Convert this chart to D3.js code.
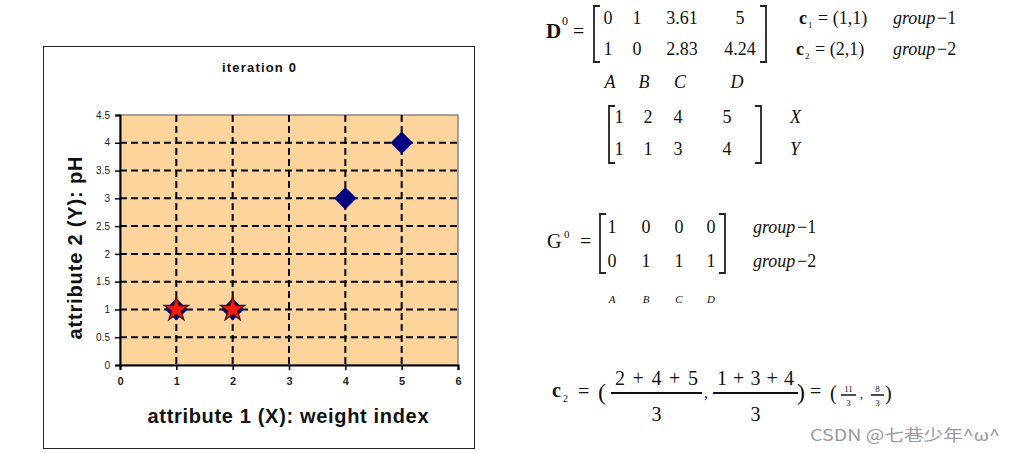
<!DOCTYPE html>
<html><head><meta charset="utf-8">
<script src="https://cdn.jsdelivr.net/npm/d3@7"></script>
<style>
html,body{margin:0;padding:0;background:#fff;}
svg{display:block;}
</style></head>
<body>
<svg id="c" width="1014" height="453"></svg>
<script>
// ---- data ----
const pointNames = ["A","B","C","D"];
const xs = [1, 2, 4, 5];
const ys = [1, 1, 3, 4];
const centroids = [[1,1],[2,1]];
const groupNames = ["group\u22121","group\u22122"];
const D0 = [["0","1","3.61","5"],["1","0","2.83","4.24"]];
const G0 = [["1","0","0","0"],["0","1","1","1"]];
const xTicks = [0,1,2,3,4,5,6];
const yTicks = [0,0.5,1,1.5,2,2.5,3,3.5,4,4.5];
const c2Num = ["2+4+5","1+3+4"];
const c2Result = [["11","3"],["8","3"]];

const svg = d3.select("#c");
const sans = "'Liberation Sans', Arial, sans-serif";
const serif = "'Liberation Serif', 'Times New Roman', serif";

// ---- chart frame ----
svg.append("rect").attr("x",43.5).attr("y",46.5).attr("width",431).attr("height",402)
  .attr("fill","#fff").attr("stroke","#222").attr("stroke-width",1);

const L=120, R=458, T=115, B=365;
const x = d3.scaleLinear().domain([0,6]).range([L,R]);
const y = d3.scaleLinear().domain([0,4.5]).range([B,T]);

svg.append("rect").attr("x",L).attr("y",T).attr("width",R-L).attr("height",B-T)
  .attr("fill","#fcd49c").attr("stroke","#888").attr("stroke-width",1.5);

// grid
const grid = svg.append("g");
grid.selectAll(".hg").data(yTicks.filter(d=>d>0 && d<4.5)).join("line")
  .attr("x1",L).attr("x2",R).attr("y1",d=>y(d)).attr("y2",d=>y(d))
  .attr("stroke","#000").attr("stroke-width",2).attr("stroke-dasharray","7,4");
grid.selectAll(".vg").data(xTicks.filter(d=>d>0 && d<6)).join("line")
  .attr("x1",d=>x(d)).attr("x2",d=>x(d)).attr("y1",T).attr("y2",B)
  .attr("stroke","#000").attr("stroke-width",2).attr("stroke-dasharray","7,4");

// axes
const xa = svg.append("g").attr("transform",`translate(0,${B})`)
  .call(d3.axisBottom(x).tickValues(xTicks).tickSize(5).tickPadding(7).tickFormat(d3.format("d")));
const ya = svg.append("g").attr("transform",`translate(${L},0)`)
  .call(d3.axisLeft(y).tickValues(yTicks).tickSize(5).tickPadding(5).tickFormat(d=>String(d)));
[xa,ya].forEach(a=>{
  a.select(".domain").attr("stroke","#000").attr("stroke-width",2);
  a.selectAll(".tick line").attr("stroke","#000").attr("stroke-width",1.5);
  a.selectAll("text").attr("font-family",sans).attr("fill","#222");
});
xa.selectAll("text").attr("font-size",11).attr("font-weight","bold");
ya.selectAll("text").attr("font-size",10);

// titles
svg.append("text").attr("x",259).attr("y",72).attr("text-anchor","middle")
  .attr("font-family",sans).attr("font-size",13).attr("font-weight","bold").attr("fill","#111")
  .attr("textLength",74).attr("lengthAdjust","spacing").text("iteration 0");
svg.append("text").attr("x",288).attr("y",423).attr("text-anchor","middle")
  .attr("font-family",sans).attr("font-size",20).attr("font-weight","bold").attr("fill","#111")
  .attr("textLength",281).attr("lengthAdjust","spacing").text("attribute 1 (X): weight index");
svg.append("text").attr("transform","translate(82,248) rotate(-90)").attr("text-anchor","middle")
  .attr("font-family",sans).attr("font-size",20).attr("font-weight","bold").attr("fill","#111")
  .attr("textLength",183).attr("lengthAdjust","spacing").text("attribute 2 (Y): pH");

// points
const pts = xs.map((v,i)=>({x:v,y:ys[i]}));
svg.selectAll(".pt").data(pts).join("path")
  .attr("transform",d=>`translate(${x(d.x)},${y(d.y)}) rotate(45)`)
  .attr("d",d3.symbol(d3.symbolSquare,250)()).attr("fill","#000080");
svg.selectAll(".ct").data(centroids).join("path")
  .attr("transform",d=>`translate(${x(d[0])},${y(d[1])})`)
  .attr("d",d3.symbol(d3.symbolStar,185)()).attr("fill","#ff1a0a")
  .attr("stroke","#3a1a10").attr("stroke-width",1.3);

// ---- math ----
const m = svg.append("g").attr("font-family",serif).attr("fill","#111");
function txt(xp,yp,s,opt={}){
  const t=m.append("text").attr("x",xp).attr("y",yp).text(s)
   .attr("font-size",opt.size||18).attr("text-anchor",opt.anchor||"start");
  if(opt.bold) t.attr("font-weight","bold");
  if(opt.italic) t.attr("font-style","italic");
  if(opt.len) t.attr("textLength",opt.len).attr("lengthAdjust","spacing");
  return t;
}
function bracket(x0,y0,y1,dir){
  m.append("path").attr("d",`M${x0+dir*6},${y0} H${x0} V${y1} H${x0+dir*6}`)
   .attr("fill","none").attr("stroke","#222").attr("stroke-width",1.8);
}
// D0
txt(546,38,"D",{bold:true,size:21});
txt(562,25,"0",{size:12});
txt(573,38,"=",{size:20});
bracket(594,6,62,1); bracket(766,6,62,-1);
const dCols=[608,637,682,740];
D0.forEach((row,r)=>row.forEach((v,c)=>txt(dCols[c],[24,55][r],v,{anchor:"middle",size:18})));
centroids.forEach((cc,i)=>{
  const yy=[24,55][i];
  txt(799-(i?3:0),yy,"c",{bold:true,size:18});
  txt(808-(i?3:0),yy+4,String(i+1),{size:9});
  txt(818-(i?3:0),yy,`= (${cc[0]},${cc[1]})`,{size:18});
  txt(893,yy,"group",{italic:true,size:18});
  txt(937,yy,"\u2212"+(i+1),{size:18});
});
const abcCols=[610,644,680,737];
pointNames.forEach((n,i)=>txt(abcCols[i],88,n,{italic:true,anchor:"middle",size:18}));
// X/Y matrix
bracket(609,106,163,1); bracket(761,106,163,-1);
const pCols=[619,648,678,727];
[xs,ys].forEach((row,r)=>row.forEach((v,c)=>txt(pCols[c],[123,155][r],String(v),{anchor:"middle",size:18})));
txt(790,123,"X",{italic:true,size:18});
txt(790,155,"Y",{italic:true,size:18});
// G0
txt(547,248,"G",{size:20});
txt(564,238,"0",{size:11});
txt(580,248,"=",{size:20});
bracket(600,214,273,1); bracket(725,214,273,-1);
const gCols=[612,646,679,711];
G0.forEach((row,r)=>row.forEach((v,c)=>txt(gCols[c],[233,267][r],v,{anchor:"middle",size:18})));
groupNames.forEach((g,i)=>{
  const yy=[233,267][i];
  txt(753,yy,"group",{italic:true,size:18});
  txt(797,yy,"\u2212"+(i+1),{size:18});
});
pointNames.forEach((n,i)=>txt(gCols[i],303,n,{italic:true,anchor:"middle",size:11}));
// c2 update
txt(552,397,"c",{bold:true,size:20});
txt(563,402,"2",{size:10});
txt(578,398,"=",{size:20});
txt(598,400,"(",{size:24});
const fracX=[[611,702],[713,798]];
c2Num.forEach((n,i)=>{
  const [a,b]=fracX[i];
  m.append("line").attr("x1",a).attr("x2",b).attr("y1",393).attr("y2",393).attr("stroke","#111").attr("stroke-width",2);
  txt((a+b)/2,385,n,{anchor:"middle",size:20,len:(b-a)-8});
  txt((a+b)/2,421,"3",{anchor:"middle",size:20});
});
txt(704,398,",",{size:16});
txt(797,400,")",{size:24});
txt(810,398,"=",{size:20});
txt(830,400,"(",{size:20});
const smallX=[[841,856],[871,884]];
c2Result.forEach((f,i)=>{
  const [a,b]=smallX[i];
  m.append("line").attr("x1",a).attr("x2",b).attr("y1",395).attr("y2",395).attr("stroke","#111").attr("stroke-width",1.5);
  txt((a+b)/2,392,f[0],{anchor:"middle",size:9});
  txt((a+b)/2,406,f[1],{anchor:"middle",size:9});
});
txt(860,398,",",{size:12});
txt(885,400,")",{size:20});

// watermark
svg.append("text").attr("x",810).attr("y",441).attr("font-family","'Noto Sans CJK SC', 'Noto Sans', sans-serif")
  .attr("font-size",16).attr("fill","#9a9a9a").attr("textLength",190).attr("lengthAdjust","spacingAndGlyphs")
  .text("CSDN @七巷少年^ω^");
</script>
</body></html>
